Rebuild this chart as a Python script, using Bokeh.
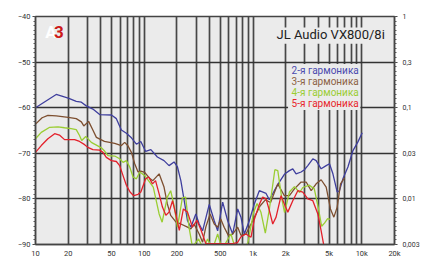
from bokeh.plotting import figure
from bokeh.models import FixedTicker, LinearAxis, Range1d, Label, BoxAnnotation
from bokeh.embed import file_html
from bokeh.resources import INLINE

# ---- data ----
freq_h2 = [10, 15.5, 20, 23.7, 26.4, 29.3, 33.7, 38.9, 49.9, 55.4, 61.6, 68.5, 76.2, 84.7, 93, 103, 115, 132, 152, 169,
           188, 202, 217, 233, 250, 268, 298, 320, 344, 396, 440, 473, 526, 585, 650, 723, 775, 832, 925, 1028,
           1143, 1318, 1413, 1571, 1746, 1942, 2161, 2321, 2489, 2768, 2970, 3191, 3548, 3807, 4233, 4708, 5050, 5429, 5945, 6240,
           6710, 7460, 8300, 9220, 10100]
db_h2 = [-60.0, -57.1, -57.9, -58.6, -58.8, -59.6, -60.3, -61.5, -61.6, -62.4, -64.9, -65.6, -66.6, -68.0, -67.4, -69.6, -69.2, -70.8, -71.6, -72.7,
         -71.9, -73.0, -76.0, -80.4, -84.8, -86.2, -83.3, -85.5, -87.0, -81.2, -84.8, -87.0, -80.7, -84.8, -87.7, -82.2, -84.0, -87.7, -84.8, -81.1,
         -78.2, -78.8, -80.2, -78.2, -76.3, -74.6, -73.8, -73.4, -74.5, -74.1, -73.6, -72.7, -71.2, -71.6, -73.4, -72.7, -72.3, -74.5, -78.5, -78.2,
         -75.6, -73.0, -69.4, -67.5, -65.5]

freq_h3 = [10, 11.5, 13, 15.5, 20, 23.7, 26.4, 27.8, 30.8, 33.5, 36.3, 43, 53.5, 61.6, 66.1, 71, 76.2, 81.7, 87.7, 93,
           101, 112, 120, 137, 152, 163, 175, 196, 217, 250, 268, 287, 320, 344, 368, 403, 440, 473, 505, 543,
           593, 650, 723, 775, 860, 959, 1066, 1165, 1300, 1450, 1690, 1942, 2161, 2402, 2768, 3080, 3425, 3807, 4233, 4708,
           5155, 5541, 5945, 6380, 6940]
db_h3 = [-63.6, -62.2, -61.7, -61.8, -62.1, -62.4, -63.1, -64.0, -63.0, -64.8, -66.5, -67.4, -67.8, -68.3, -67.6, -68.4, -69.8, -72.3, -74.1, -73.9,
         -74.2, -75.5, -76.0, -74.5, -77.4, -81.1, -83.6, -85.1, -85.5, -86.2, -86.6, -85.5, -87.7, -89.5, -86.2, -83.3, -85.5, -86.2, -84.4, -86.2,
         -88.0, -87.7, -86.2, -88.0, -87.7, -85.5, -83.3, -81.5, -80.2, -80.8, -76.7, -79.3, -79.3, -77.8, -76.3, -76.3, -78.2, -76.7, -75.8, -77.4,
         -82.2, -84.0, -81.8, -76.7, -75.4]

freq_h4 = [10, 11.3, 13.5, 16.1, 18.5, 21.3, 23.7, 25.4, 26.6, 29, 32.6, 36.3, 40.3, 43.2, 46.4, 53.5, 59.4, 63.8, 68.5, 73.5,
           78.9, 84.7, 91, 101, 112, 121, 137, 146, 163, 175, 188, 202, 224, 240, 258, 277, 316, 350, 382, 425,
           473, 520, 627, 690, 800, 900, 1011, 1090, 1185, 1298, 1419, 1588, 1690, 1842, 1951, 2161, 2402, 2683, 2870, 3300,
           3660, 3990, 4277, 4541, 4859, 5100]
db_h4 = [-66.8, -65.4, -64.3, -64.2, -64.4, -64.6, -64.8, -66.1, -67.2, -66.3, -67.6, -68.2, -68.8, -69.5, -70.5, -70.6, -71.2, -72.0, -71.6, -73.0,
         -75.2, -75.6, -74.1, -74.9, -76.3, -77.4, -83.3, -85.1, -79.6, -78.2, -81.5, -86.2, -79.8, -79.6, -86.2, -90.5, -88.8, -91.0, -88.8, -91.0,
         -87.7, -91.0, -87.7, -91.0, -92.0, -89.5, -83.0, -81.0, -83.0, -87.5, -82.0, -73.6, -73.8, -80.0, -83.0, -78.5, -77.3, -78.6, -77.5, -77.0,
         -77.8, -82.0, -86.0, -85.3, -84.3, -84.5]

freq_h5 = [10, 11.3, 13, 15, 16.6, 18.5, 20, 22.9, 25.4, 28.3, 30.3, 33.7, 38.9, 41.7, 44.8, 49.9, 55.4, 59.4, 63.8, 68.5,
           74, 80, 87.7, 93, 103, 110, 119, 127, 137, 147, 158, 169, 182, 196, 210, 229, 250, 277, 305, 330,
           368, 500, 650, 720, 775, 860, 959, 1028, 1143, 1228, 1318, 1413, 1519, 1629, 1812, 1942, 2089, 2321, 2582, 2870,
           3191, 3548, 3947, 4233, 4540]
db_h5 = [-69.8, -68.3, -66.8, -65.7, -66.0, -67.0, -67.0, -67.0, -67.4, -68.1, -68.7, -69.2, -69.3, -69.8, -70.9, -71.6, -71.8, -72.7, -74.9, -77.0,
         -78.5, -79.3, -79.0, -78.5, -75.6, -75.2, -76.7, -76.0, -78.9, -81.8, -83.6, -82.9, -80.4, -83.6, -86.9, -82.2, -82.9, -86.2, -84.7, -86.6,
         -89.8, -89.8, -89.8, -89.6, -88.3, -87.7, -88.4, -84.5, -81.2, -79.6, -80.0, -82.5, -85.5, -84.0, -79.3, -81.1, -82.9, -80.4, -78.2, -78.5,
         -80.0, -80.4, -83.3, -87.0, -91.0]

series_names = ["2-я гармоника", "3-я гармоника", "4-я гармоника", "5-я гармоника"]
series_colors = ["#3f3f9e", "#7d4f30", "#9acd32", "#e3202b"]
legend_colors = ["#4a4aae", "#8c6244", "#9acd32", "#e8262c"]

x_tick_values = [10, 20, 50, 100, 200, 500, 1000, 2000, 5000, 10000, 20000]
x_tick_labels = ["10", "20", "50", "100", "200", "500", "1k", "2k", "5k", "10k", "20k"]
grid_freqs = [20, 30, 40, 50, 60, 70, 80, 90, 100, 200, 300, 400, 500, 600, 700, 800, 900,
              1000, 2000, 3000, 4000, 5000, 6000, 7000, 8000, 9000, 10000]
db_ticks = [-90, -80, -70, -60, -50, -40]
pct_labels = ["0,003", "0,01", "0,03", "0,1", "0,3", "1"]
title_text = "JL Audio VX800/8i"

PLOT_BG = "#ebebeb"
FONT = "Roboto"

p = figure(width=424, height=268, x_axis_type="log", x_range=(10, 20000), y_range=(-90, -40),
           output_backend="svg", toolbar_location=None,
           min_border_left=35, min_border_right=30, min_border_top=16, min_border_bottom=24,
           background_fill_color=PLOT_BG, border_fill_color="#ffffff")
p.outline_line_color = "#444444"
p.outline_line_width = 1.5

# grids
p.xgrid.ticker = FixedTicker(ticks=grid_freqs)
p.xgrid.grid_line_color = "#474747"
p.xgrid.grid_line_width = 1.7
p.ygrid.ticker = FixedTicker(ticks=[-80, -70, -60, -50])
p.ygrid.grid_line_color = "#333333"
p.ygrid.grid_line_width = 1.5

# bottom axis
xa = p.xaxis[0]
xa.ticker = FixedTicker(ticks=x_tick_values)
xa.major_label_overrides = {v: l for v, l in zip(x_tick_values, x_tick_labels)}
xa.major_tick_out = 0
xa.major_tick_in = 0
xa.minor_tick_out = 0
xa.major_label_standoff = 4
xa.axis_line_color = "#444444"
xa.axis_line_width = 1.5
xa.major_label_text_font_size = "7.5px"
xa.major_label_text_font = FONT
xa.major_label_text_color = "#333333"

# left axis
ya = p.yaxis[0]
ya.ticker = FixedTicker(ticks=db_ticks, minor_ticks=list(range(-90, -39)))
ya.major_tick_out = 3
ya.major_tick_in = 0
ya.minor_tick_out = 2
ya.minor_tick_in = 0
ya.major_tick_line_color = "#444444"
ya.minor_tick_line_color = "#555555"
ya.axis_line_color = "#444444"
ya.axis_line_width = 1.5
ya.major_label_standoff = 2
ya.major_label_text_font_size = "7.5px"
ya.major_label_text_font = FONT
ya.major_label_text_color = "#333333"

# right axis (%)
p.extra_y_ranges = {"pct": Range1d(-90, -40)}
ra = LinearAxis(y_range_name="pct", ticker=FixedTicker(ticks=db_ticks, minor_ticks=list(range(-90, -39))))
ra.major_label_overrides = {v: l for v, l in zip(db_ticks, pct_labels)}
ra.major_tick_out = 3
ra.major_tick_in = 0
ra.minor_tick_out = 2
ra.minor_tick_in = 0
ra.major_tick_line_color = "#444444"
ra.minor_tick_line_color = "#555555"
ra.axis_line_color = "#444444"
ra.axis_line_width = 1.5
ra.major_label_standoff = 5
ra.major_label_text_font_size = "7px"
ra.major_label_text_font = FONT
ra.major_label_text_color = "#333333"
p.add_layout(ra, "right")

# curves
all_f = [freq_h2, freq_h3, freq_h4, freq_h5]
all_d = [db_h2, db_h3, db_h4, db_h5]
for f, d, c in zip(all_f, all_d, series_colors):
    p.line(f, d, line_color=c, line_width=1.3)

# title box + title
p.add_layout(BoxAnnotation(left=1630, right=16800, top=-42.4, bottom=-46.0,
                           fill_color=PLOT_BG, fill_alpha=1.0, line_alpha=0, level="annotation"))
p.add_layout(Label(x=5175, y=-43.95, text=title_text, text_font=FONT, text_font_size="13px",
                   text_color="#222222", text_align="center", text_baseline="middle"))

# legend box + legend texts
p.add_layout(BoxAnnotation(left=2100, right=9700, top=-50.4, bottom=-60.5,
                           fill_color=PLOT_BG, fill_alpha=1.0, line_alpha=0, level="annotation"))
legend_y = [-51.84, -54.25, -56.73, -59.14]
for name, col, yy in zip(series_names, legend_colors, legend_y):
    p.add_layout(Label(x=2265, y=yy, text=name, text_font=FONT, text_font_size="10px",
                       text_color=col, text_align="left", text_baseline="middle"))

# logo
p.add_layout(Label(x=12.3, y=-43.4, text="A", text_font=FONT, text_font_size="17px", text_font_style="bold",
                   text_color="#ffffff", text_align="left", text_baseline="middle"))
p.add_layout(Label(x=14.8, y=-43.4, text="3", text_font=FONT, text_font_size="17px", text_font_style="bold",
                   text_color="#cc1a1a", text_align="left", text_baseline="middle"))

# unit labels
p.add_layout(Label(x=7.75, y=-44.8, text="дБ", text_font=FONT, text_font_size="7.5px",
                   text_color="#333333", text_align="center", text_baseline="middle"))
p.add_layout(Label(x=26850, y=-44.8, text="%", text_font=FONT, text_font_size="7.5px",
                   text_color="#333333", text_align="center", text_baseline="middle"))
p.add_layout(Label(x=7350, y=-92.0, text="Гц", text_font=FONT, text_font_size="8px",
                   text_color="#333333", text_align="center", text_baseline="middle"))

open("out.html", "w").write(file_html(p, INLINE))
